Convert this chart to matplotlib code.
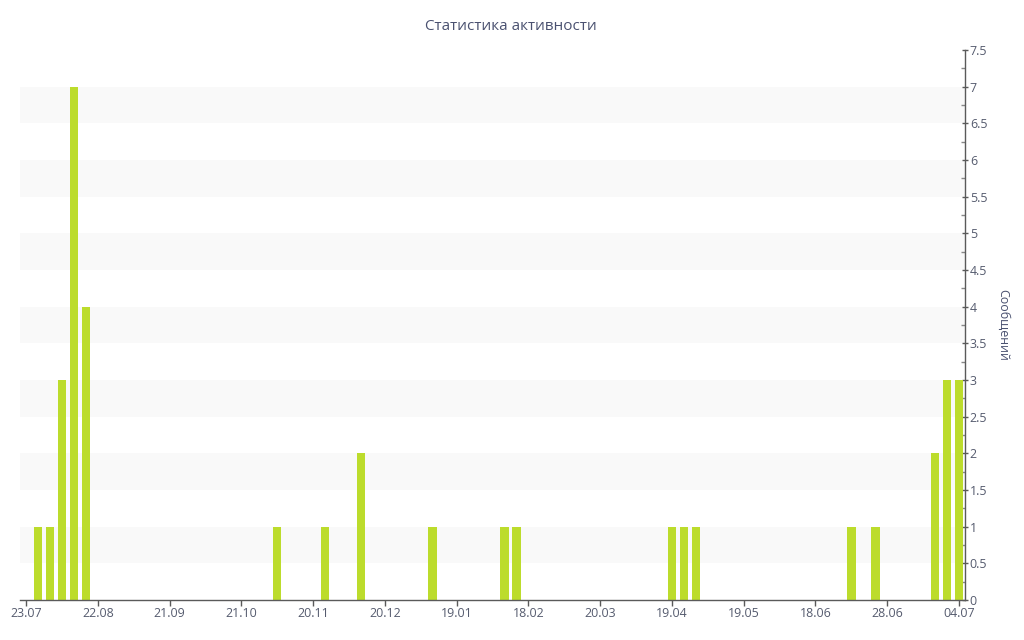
import matplotlib
matplotlib.use("Agg")
import matplotlib.pyplot as plt
from matplotlib.ticker import MultipleLocator, FixedLocator

# ---- data ----
title = "Статистика активности"
y_label = "Сообщений"
tick_labels = ["23.07", "22.08", "21.09", "21.10", "20.11", "20.12", "19.01",
               "18.02", "20.03", "19.04", "19.05", "18.06", "28.06", "04.07"]
tick_every = 6  # one label every 6 bar slots

# message counts per bar slot (79 slots, index 0 = 23.07 ... 78 = 04.07)
counts = [0, 1, 1, 3, 7, 4, 0, 0, 0, 0,
          0, 0, 0, 0, 0, 0, 0, 0, 0, 0,
          0, 1, 0, 0, 0, 1, 0, 0, 2, 0,
          0, 0, 0, 0, 1, 0, 0, 0, 0, 0,
          1, 1, 0, 0, 0, 0, 0, 0, 0, 0,
          0, 0, 0, 0, 1, 1, 1, 0, 0, 0,
          0, 0, 0, 0, 0, 0, 0, 0, 0, 1,
          0, 1, 0, 0, 0, 0, 2, 3, 3]

# ---- styling ----
plt.rcParams['font.family'] = ['Open Sans', 'DejaVu Sans']
bar_color = "#bcdc2c"
text_color = "#4a5170"
tick_color = "#555b6e"
axis_color = "#5a5a5a"
band_color = "#f9f9f9"

fig = plt.figure(figsize=(10.24, 6.4), dpi=100)
ax = fig.add_axes([20 / 1024, 1 - 600 / 640, (965 - 20) / 1024, (600 - 50) / 640])

x = list(range(len(counts)))
ymax = 7.5

# alternating bands
b = 0.5
while b < ymax:
    ax.axhspan(b, b + 0.5, color=band_color, zorder=0, lw=0)
    b += 1.0

ax.bar(x, counts, width=0.71, color=bar_color, zorder=2, linewidth=0)

ax.set_xlim(-0.5, len(counts) - 0.5)
ax.set_ylim(0, ymax)

ax.xaxis.set_major_locator(FixedLocator([i * tick_every for i in range(len(tick_labels))]))
ax.set_xticklabels(tick_labels)

ax.yaxis.tick_right()
ax.yaxis.set_label_position("right")
ax.yaxis.set_major_locator(MultipleLocator(0.5))
ax.yaxis.set_minor_locator(MultipleLocator(0.25))
ax.set_yticklabels([("%g" % v) for v in ax.get_yticks()])

for s in ["left", "top"]:
    ax.spines[s].set_visible(False)
for s in ["bottom", "right"]:
    ax.spines[s].set_color(axis_color)
    ax.spines[s].set_linewidth(1.0)

ax.tick_params(axis="x", direction="out", length=4, width=1, color=axis_color,
               labelsize=8.9, labelcolor=tick_color, pad=1)
ax.tick_params(axis="y", which="major", direction="inout", length=5, width=1,
               color=axis_color, labelsize=8.9, labelcolor=tick_color, pad=1)
ax.tick_params(axis="y", which="minor", direction="in", length=3, width=1,
               color="#888888")

ax.set_ylabel(y_label, rotation=-90, color=text_color, fontsize=8.9, labelpad=16)
ax.set_facecolor("white")

fig.text(511 / 1024, 1 - 26 / 640, title, ha="center", va="center",
         fontsize=11, color=text_color)

fig.savefig("out.png", dpi=100)
